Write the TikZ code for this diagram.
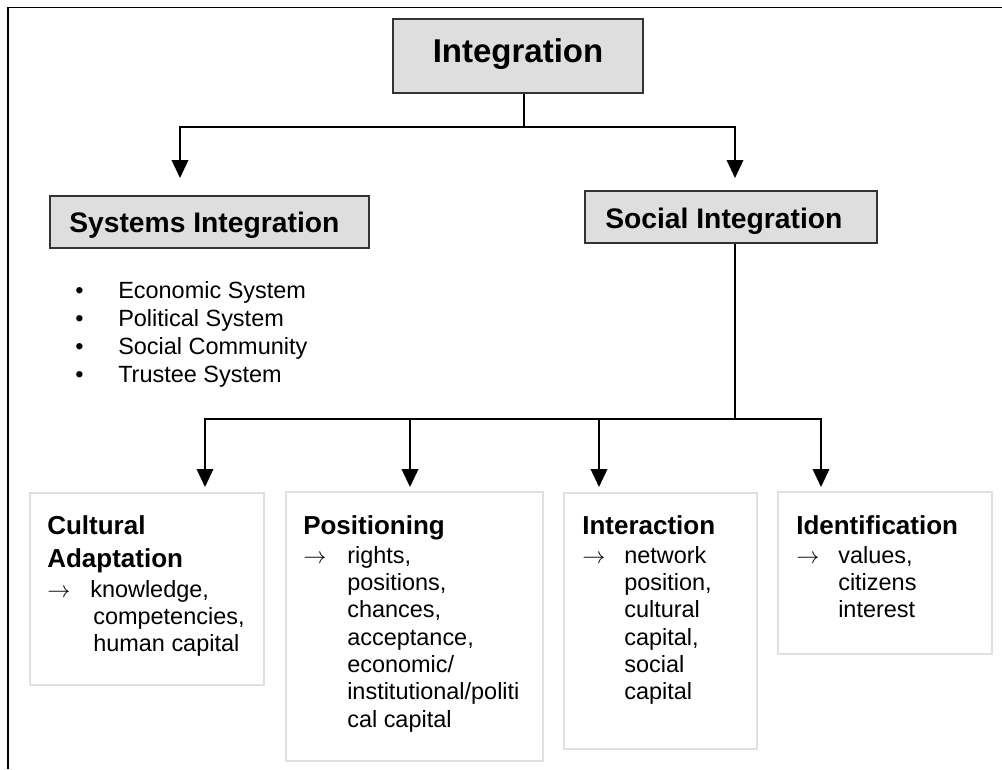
\documentclass[tikz,border=0pt]{standalone}
\usepackage{fontspec}
\setmainfont{Liberation Sans}
\usetikzlibrary{arrows.meta,fit}
\tikzset{
  graybox/.style={draw=black!80, line width=1.1pt, fill=black!13, inner sep=0pt},
  lightbox/.style={draw=black!12, line width=0.8pt, fill=white, inner sep=0pt},
  conn/.style={line width=1.1pt, draw=black},
  arr/.style={conn, -{Triangle[width=12.5pt,length=13.5pt]}},
  headtxt/.style={anchor=base west, inner sep=0pt, font=\bfseries\fontsize{21.2pt}{25pt}\selectfont},
  toptxt/.style={anchor=base, inner sep=0pt, font=\bfseries\fontsize{24.75pt}{28pt}\selectfont},
  titletxt/.style={anchor=base west, inner sep=0pt, font=\bfseries\fontsize{19.5pt}{24.75pt}\selectfont},
  bodytxt/.style={anchor=base west, inner sep=0pt, font=\fontsize{17.6pt}{20.5pt}\selectfont},
}
\begin{document}
\begin{tikzpicture}[x=0.75pt, y=-0.75pt]
\useasboundingbox (0,0) rectangle (1002,769);
% open frame
\draw[line width=1.2pt] (8,769) -- (8,7.5) -- (1002,7.5);

% top level
\node[graybox, fit={(393,19) (643,93)}] (top) {};
\node[toptxt] (toplbl) at (518,62) {Integration};

% second level
\node[graybox, fit={(50,196) (369,248)}] (sys) {};
\node[headtxt] (syslbl) at (69,232) {Systems Integration};
\node[graybox, fit={(585,191) (877,243)}] (soc) {};
\node[headtxt] (soclbl) at (605,228) {Social Integration};

% systems list
\foreach \t/\yy [count=\i] in {Economic System/298, Political System/326, Social Community/354, Trustee System/382}{
  \node[bodytxt] (bul\i) at (75,\yy) {\textbullet};
  \node[bodytxt] (sysitem\i) at (118,\yy) {\t};
}

% third level boxes
\node[lightbox, fit={(30,493) (264,685)}] (cult) {};
\node[lightbox, fit={(286,492) (543,761)}] (pos) {};
\node[lightbox, fit={(564,493) (757,749)}] (inter) {};
\node[lightbox, fit={(778,492) (992,654)}] (ident) {};

% connectors from the top box
\coordinate (j1) at (524,127);
\coordinate (sysIn) at (180,178);
\coordinate (socIn) at (735,178);
\draw[conn] (top.south -| j1) -- (j1);
\draw[arr] (j1) -| (sysIn);
\draw[arr] (j1) -| (socIn);

% connectors from social integration
\coordinate (j2) at (735,419);
\coordinate (cultIn) at (205,487);
\coordinate (posIn) at (410,487);
\coordinate (interIn) at (599,487);
\coordinate (identIn) at (821,487);
\draw[conn] (soc.south -| j2) -- (j2);
\draw[arr] (j2) -| (cultIn);
\draw[arr] (j2) -| (posIn);
\draw[arr] (j2) -| (interIn);
\draw[arr] (j2) -| (identIn);

% Cultural Adaptation
\node[titletxt] (cultT1) at (47,534) {Cultural};
\node[titletxt] (cultT2) at (47,567) {Adaptation};
\node[bodytxt] (cultA) at (47,597) {$\rightarrow$};
\node[bodytxt] (cult1) at (90,597) {knowledge,};
\node[bodytxt] (cult2) at (93,624) {competencies,};
\node[bodytxt] (cult3) at (93,651) {human capital};

% Positioning
\node[titletxt] (posT) at (303,534) {Positioning};
\node[bodytxt] (posA) at (303,563) {$\rightarrow$};
\node[bodytxt] (pos1) at (347,563) {rights,};
\node[bodytxt] (pos2) at (347,590) {positions,};
\node[bodytxt] (pos3) at (347,617) {chances,};
\node[bodytxt] (pos4) at (347,645) {acceptance,};
\node[bodytxt] (pos5) at (347,672) {economic/};
\node[bodytxt] (pos6) at (347,699) {institutional/politi};
\node[bodytxt] (pos7) at (347,727) {cal capital};

% Interaction
\node[titletxt] (interT) at (582,534) {Interaction};
\node[bodytxt] (interA) at (582,563) {$\rightarrow$};
\node[bodytxt] (inter1) at (624,563) {network};
\node[bodytxt] (inter2) at (624,590) {position,};
\node[bodytxt] (inter3) at (624,617) {cultural};
\node[bodytxt] (inter4) at (624,645) {capital,};
\node[bodytxt] (inter5) at (624,672) {social};
\node[bodytxt] (inter6) at (624,699) {capital};

% Identification
\node[titletxt] (identT) at (796,534) {Identification};
\node[bodytxt] (identA) at (796,563) {$\rightarrow$};
\node[bodytxt] (ident1) at (838,563) {values,};
\node[bodytxt] (ident2) at (838,590) {citizens};
\node[bodytxt] (ident3) at (838,617) {interest};
\end{tikzpicture}
\end{document}
